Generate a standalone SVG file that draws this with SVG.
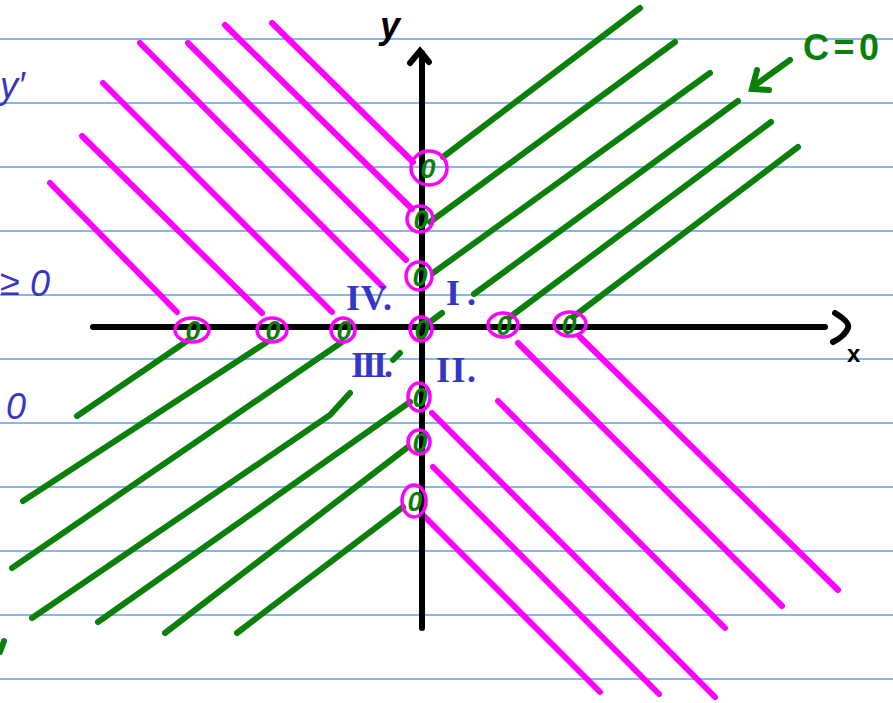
<svg xmlns="http://www.w3.org/2000/svg" width="893" height="703" viewBox="0 0 893 703">
<style>
.rule{stroke:#5c9ee6;stroke-width:1.5}
.mg{stroke:#ff00ff;stroke-width:6;stroke-linecap:round;fill:none}
.gr{stroke:#0a800a;stroke-width:6;stroke-linecap:round;fill:none}
.ax{stroke:#000;stroke-width:6;stroke-linecap:round;fill:none}
.ring{stroke:#ff00ff;stroke-width:3.5;fill:none}
.zero{fill:#0a800a;font-family:"Liberation Sans",sans-serif;font-style:italic;font-weight:bold;font-size:27px;text-anchor:middle}
.num{fill:#3535c8;font-family:"Liberation Serif",serif;font-weight:bold;font-size:36px}
.blue{fill:#3535c8;font-family:"Liberation Sans",sans-serif;font-style:italic;font-size:36px}
</style>
<rect width="893" height="703" fill="#fff"/>
<g id="rules">
<line class="rule" x1="0" y1="39" x2="893" y2="39"/>
<line class="rule" x1="0" y1="103" x2="893" y2="103"/>
<line class="rule" x1="0" y1="167" x2="893" y2="167"/>
<line class="rule" x1="0" y1="231" x2="893" y2="231"/>
<line class="rule" x1="0" y1="295" x2="893" y2="295"/>
<line class="rule" x1="0" y1="359" x2="893" y2="359"/>
<line class="rule" x1="0" y1="423" x2="893" y2="423"/>
<line class="rule" x1="0" y1="487" x2="893" y2="487"/>
<line class="rule" x1="0" y1="551" x2="893" y2="551"/>
<line class="rule" x1="0" y1="615" x2="893" y2="615"/>
<line class="rule" x1="0" y1="679" x2="893" y2="679"/>
</g>
<g id="magenta-lines">
<line class="mg" x1="50" y1="183" x2="177" y2="312"/>
<line class="mg" x1="82" y1="136" x2="262" y2="313"/>
<line class="mg" x1="103" y1="83" x2="332" y2="312"/>
<line class="mg" x1="140" y1="43" x2="383" y2="287"/>
<line class="mg" x1="188" y1="43" x2="406" y2="260"/>
<line class="mg" x1="225" y1="25" x2="412" y2="209"/>
<line class="mg" x1="272" y1="23" x2="413" y2="162"/>
<line class="mg" x1="423" y1="515" x2="600" y2="692"/>
<line class="mg" x1="433" y1="467" x2="659" y2="694"/>
<line class="mg" x1="432" y1="413" x2="715" y2="697"/>
<line class="mg" x1="498" y1="401" x2="725" y2="628"/>
<line class="mg" x1="518" y1="343" x2="782" y2="606"/>
<line class="mg" x1="580" y1="337" x2="838" y2="590"/>
</g>
<g id="green-lines">
<line class="gr" x1="443" y1="157" x2="640" y2="8"/>
<line class="gr" x1="430" y1="222" x2="675" y2="42"/>
<line class="gr" x1="433" y1="273" x2="710" y2="73"/>
<line class="gr" x1="474" y1="294" x2="738" y2="101"/>
<line class="gr" x1="510" y1="317" x2="771" y2="122"/>
<line class="gr" x1="573" y1="317" x2="798" y2="147"/>
<line class="gr" x1="430" y1="322" x2="442" y2="313"/>
<line class="gr" x1="77" y1="416" x2="187" y2="341"/>
<line class="gr" x1="23" y1="501" x2="267" y2="342"/>
<line class="gr" x1="12" y1="568" x2="342" y2="342"/>
<path class="gr" d="M32 618 L330 415 L350 393"/>
<line class="gr" x1="98" y1="622" x2="410" y2="402"/>
<line class="gr" x1="165" y1="633" x2="408" y2="447"/>
<line class="gr" x1="237" y1="633" x2="403" y2="507"/>
<line class="gr" x1="393" y1="360" x2="400" y2="353"/>
<line class="gr" x1="0" y1="652" x2="4" y2="641"/>
</g>
<g id="axes">
<line class="ax" x1="93" y1="327" x2="825" y2="327"/>
<path class="ax" d="M835 313 Q850 322 848 328 Q845 336 833 342" stroke-width="4"/>
<line class="ax" x1="422" y1="53" x2="422" y2="628"/>
<path class="ax" d="M410 63 L420 51 L429 62" stroke-width="4"/>
<text x="847" y="362" font-family="Liberation Sans,sans-serif" font-weight="bold" font-size="24" fill="#000">x</text>
<text x="380" y="38" font-family="Liberation Sans,sans-serif" font-style="italic" font-weight="bold" font-size="36" fill="#000">y</text>
</g>
<g id="intercepts">
<ellipse class="ring" cx="192" cy="330" rx="17" ry="12"/><text class="zero" x="193" y="340">0</text>
<ellipse class="ring" cx="272" cy="330" rx="15" ry="12"/><text class="zero" x="273" y="340">0</text>
<ellipse class="ring" cx="343" cy="330" rx="12" ry="12"/><text class="zero" x="344" y="340">0</text>
<ellipse class="ring" cx="421" cy="329" rx="11" ry="12"/><text class="zero" x="422" y="339">0</text>
<ellipse class="ring" cx="503" cy="325" rx="15" ry="12"/><text class="zero" x="504" y="335">0</text>
<ellipse class="ring" cx="570" cy="324" rx="16" ry="12"/><text class="zero" x="569" y="334">0</text>
<ellipse class="ring" cx="429" cy="168" rx="18" ry="17"/><text class="zero" x="428" y="178">0</text>
<ellipse class="ring" cx="420" cy="219" rx="13" ry="13"/><text class="zero" x="421" y="229">0</text>
<ellipse class="ring" cx="419" cy="276" rx="13" ry="14"/><text class="zero" x="420" y="286">0</text>
<ellipse class="ring" cx="419" cy="397" rx="11" ry="14"/><text class="zero" x="420" y="407">0</text>
<ellipse class="ring" cx="419" cy="442" rx="11" ry="12"/><text class="zero" x="420" y="452">0</text>
<ellipse class="ring" cx="414" cy="501" rx="12" ry="16"/><text class="zero" x="415" y="511">0</text>
</g>
<g id="quadrants">
<text class="num" x="346" y="310" textLength="46">IV.</text>
<text class="num" x="446" y="305" textLength="30">I.</text>
<text class="num" x="351" y="377" textLength="42">III.</text>
<text class="num" x="436" y="382" textLength="40">II.</text>
</g>
<g id="annotation">
<text x="803" y="60" font-family="Liberation Sans,sans-serif" font-weight="bold" font-size="36" fill="#0a800a" textLength="76">C=0</text>
<path class="gr" d="M790 60 L754 86 M757 70 L752 89 L769 90" stroke-width="5"/>
</g>
<g id="margin-text">
<text class="blue" x="0" y="98" font-size="30">y′</text>
<text class="blue" x="0" y="295" font-size="32">≥</text>
<text class="blue" x="30" y="296">0</text>
<text class="blue" x="6" y="419" font-size="40">0</text>
</g>
</svg>
